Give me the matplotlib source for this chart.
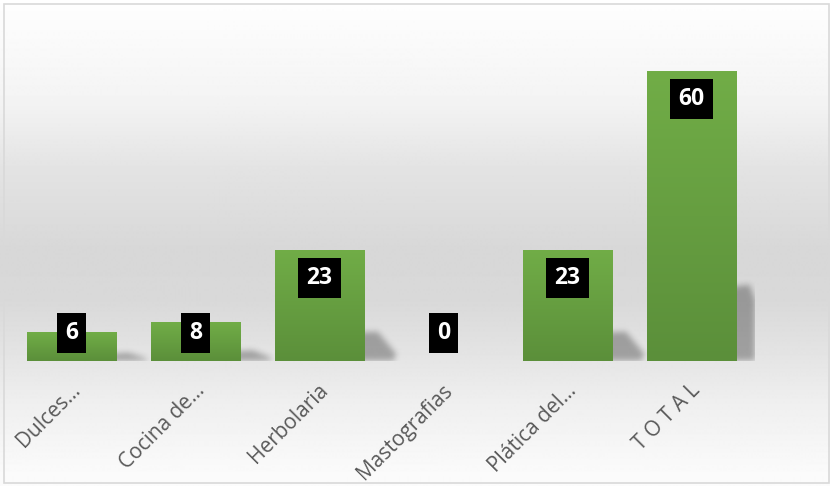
import numpy as np
import matplotlib
matplotlib.use('Agg')
import matplotlib.pyplot as plt
from matplotlib.colors import LinearSegmentedColormap
from matplotlib.path import Path
from matplotlib.patches import Rectangle
import matplotlib.transforms as mtransforms

categories = ['Dulces…', 'Cocina de…', 'Herbolaria', 'Mastografias', 'Plática del…', 'T O T A L']
values = [6, 8, 23, 0, 23, 60]

W, H = 830, 486
fig = plt.figure(figsize=(W / 100, H / 100), dpi=100)

# chart area background: white -> grey -> white
bg = fig.add_axes([0, 0, 1, 1], zorder=0)
ys = np.array([0, 5, 100, 170, 250, 300, 350, 400, 470, 486])
vs = np.array([1.0, 0.995, 0.955, 0.89, 0.845, 0.85, 0.89, 0.935, 0.98, 0.985])
col = np.interp(np.arange(H), ys, vs)
bg.imshow(np.repeat(col[:, None], 2, axis=1), cmap='gray', vmin=0, vmax=1,
          aspect='auto', extent=[0, 1, 0, 1], origin='upper')
bg.add_patch(Rectangle((4 / W, 3 / H), (W - 5) / W, (H - 7) / H, fill=False,
                       ec='#d9d9d9', lw=1.2, transform=bg.transAxes))
bg.set_xlim(0, 1)
bg.set_ylim(0, 1)
bg.axis('off')

ax = fig.add_axes([9.5 / W, 125 / H, 744 / W, 338.3 / H], zorder=1)
ax.patch.set_alpha(0)
ax.set_xlim(-0.5, 5.5)
ax.set_ylim(0, 70)
for s in ax.spines.values():
    s.set_visible(False)
ax.set_yticks([])

bw = 0.72
green = LinearSegmentedColormap.from_list('g', ['#5b8f3a', '#71ad47'])

# soft shadow raster (hidden part sits behind the bar)
gx = np.linspace(-0.5, 5.5, 744 * 2)
gy = np.linspace(0, 70, 338 * 2)
XX, YY = np.meshgrid(gx, gy)
pts = np.column_stack([XX.ravel(), YY.ravel()])
mask = np.zeros(XX.shape)
for i, v in enumerate(values):
    if v == 0:
        continue
    x1 = i + bw / 2
    h = v * 0.25
    poly = Path([(x1 - 0.12, 0), (x1 - 0.12, h), (x1 + 0.1, h * 1.05),
                 (x1 + 0.25, h * 0.25), (x1 + 0.23, 0)])
    mask += poly.contains_points(pts).reshape(XX.shape)
k = np.exp(-0.5 * (np.arange(-18, 19) / 6.0) ** 2)
k /= k.sum()
blur = np.apply_along_axis(lambda r: np.convolve(r, k, mode='same'), 1, mask)
blur = np.apply_along_axis(lambda c: np.convolve(c, k, mode='same'), 0, blur)
shadow = np.zeros(XX.shape + (4,))
shadow[..., 3] = np.clip(blur, 0, 1) * 0.3
ax.imshow(shadow, extent=[-0.5, 5.5, 0, 70], origin='lower', aspect='auto', zorder=1)

x = np.arange(len(categories))
bars = ax.bar(x, values, width=bw, color='none', edgecolor='none', zorder=2)
grad = np.linspace(0, 1, 256)[:, None]
for b in bars:
    if b.get_height() == 0:
        continue
    im = ax.imshow(grad, cmap=green, aspect='auto', origin='lower', zorder=2,
                   extent=[b.get_x(), b.get_x() + b.get_width(), 0, b.get_height()])
    im.set_clip_path(b)
ax.set_xlim(-0.5, 5.5)
ax.set_ylim(0, 70)

for i, v in enumerate(values):
    yc = max(v - 5.8, 5.8)
    ax.text(i, yc, str(v), ha='center', va='center', color='white', fontsize=16.5,
            fontweight='bold', family='Open Sans', zorder=4,
            bbox=dict(boxstyle='square,pad=0.36', fc='black', ec='none'))

ax.set_xticks(x)
ax.set_xticklabels(categories, rotation=45, ha='right', va='center',
                   rotation_mode='anchor', fontsize=15, color='#595959',
                   family='Open Sans')
ax.tick_params(axis='x', length=0, pad=19)
off = mtransforms.ScaledTranslation(6 / 100, 0, fig.dpi_scale_trans)
for lbl in ax.get_xticklabels():
    lbl.set_transform(lbl.get_transform() + off)

fig.savefig('out.png', dpi=100)
